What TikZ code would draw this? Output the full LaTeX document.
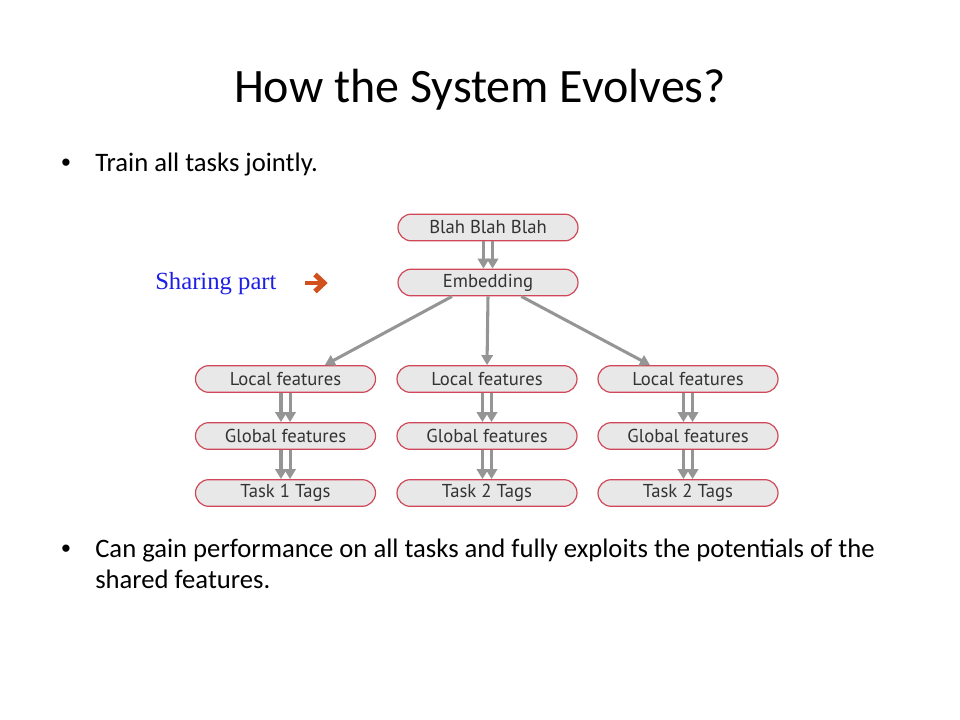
\documentclass[tikz,border=0pt]{standalone}
\usepackage{fontspec}
\setmainfont{Carlito}
\newfontfamily\boxfont{PT Sans}
\newfontfamily\sharefont{Liberation Serif}
\newfontfamily\bulfont{Liberation Sans}
\usetikzlibrary{arrows.meta}
\definecolor{boxfill}{HTML}{E8E8E8}
\definecolor{boxline}{HTML}{D04858}
\definecolor{arrgray}{HTML}{959595}
\definecolor{sharblue}{HTML}{1E1EE6}
\definecolor{arrorange}{HTML}{D2501E}
\begin{document}
\begin{tikzpicture}[x=0.75pt,y=-0.75pt,
 pill/.style={draw=boxline, fill=boxfill, line width=0.9pt, rounded corners=10pt,
   minimum width=135pt, minimum height=20pt, inner sep=0pt,
   font=\boxfont\fontsize{14}{15}\selectfont, text=black!80},
 garr/.style={draw=arrgray, line width=2.3pt, -{Triangle[length=7.5pt,width=8.5pt]}},
 txt/.style={anchor=base west, inner sep=0pt, font=\fontsize{20}{24}\selectfont},
 bul/.style={anchor=base, inner sep=0pt, font=\bulfont\fontsize{20}{24}\selectfont},
]
\useasboundingbox (0,0) rectangle (960,720);
% title
\node[anchor=base, inner sep=0pt, font=\fontsize{36}{40}\selectfont] (title) at (480,103) {How the System Evolves?};
% bullets
\node[bul] (b1) at (66,172) {•};
\node[txt] (t1) at (95,172) {Train all tasks jointly.};
\node[bul] (b2) at (66,557) {•};
\node[txt] (t2) at (95,557) {Can gain performance on all tasks and fully exploits the potentials of the};
\node[txt] (t3) at (95,588) {shared features.};
% sharing part
\node[anchor=base west, inner sep=0pt, text=sharblue, font=\sharefont\fontsize{18.5}{20}\selectfont] (share) at (155,290) {Sharing part};
\draw[arrorange, line width=3.6pt] (305,283) -- (321,283);
\draw[arrorange, line width=3.8pt, miter limit=10] (315,274.5) -- (324,283) -- (315,291.5);
% boxes
\node[pill] (blah) at (488,227.5) {Blah Blah Blah};
\node[pill] (emb) at (488,282.5) {Embedding};
\node[pill] (l1) at (285.5,379) {Local features};
\node[pill] (l2) at (487,379) {Local features};
\node[pill] (l3) at (688,379) {Local features};
\node[pill] (g1) at (285.5,436) {Global features};
\node[pill] (g2) at (487,436) {Global features};
\node[pill] (g3) at (688,436) {Global features};
\node[pill] (k1) at (285.5,493) {Task 1 Tags};
\node[pill] (k2) at (487,493) {Task 2 Tags};
\node[pill] (k3) at (688,493) {Task 2 Tags};
% arrows
\foreach \s in {-3.4pt,3.4pt}{
  \draw[garr] ([xshift=\s]blah.south) -- ([xshift=\s]emb.north);
  \foreach \a/\b in {l1/g1,l2/g2,l3/g3,g1/k1,g2/k2,g3/k3}{
    \draw[garr] ([xshift=\s]\a.south) -- ([xshift=\s]\b.north);
  }
}
\draw[garr] ([xshift=-27pt]emb.south) -- ([xshift=29.5pt]l1.north);
\draw[garr] (emb.south) -- (l2.north);
\draw[garr] ([xshift=25pt]emb.south) -- ([xshift=-28.5pt]l3.north);
\end{tikzpicture}
\end{document}
